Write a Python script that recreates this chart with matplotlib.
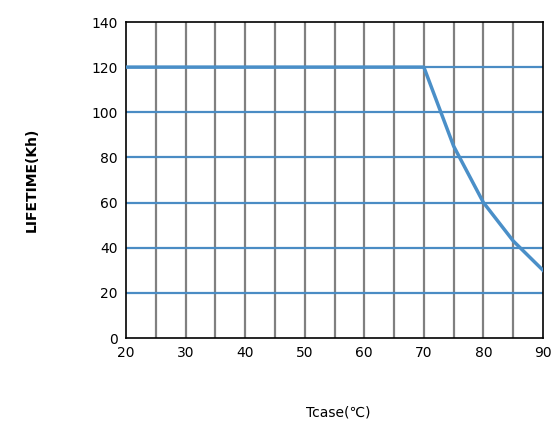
import matplotlib
matplotlib.use("Agg")
import matplotlib.pyplot as plt

temps = [20, 70, 75, 80, 85, 90]
lifetime = [120, 120, 85, 60, 43, 30]
xticks = [20, 30, 40, 50, 60, 70, 80, 90]
yticks = [0, 20, 40, 60, 80, 100, 120, 140]

fig = plt.figure(figsize=(5.59, 4.34), dpi=100)
ax = fig.add_axes([126/559, 1-338/434, 417/559, 316/434])
ax.set_xlim(20, 90)
ax.set_ylim(0, 140)
for x in range(25, 90, 5):
    ax.axvline(x, color="#808080", lw=1.6, zorder=1)
for y in range(20, 140, 20):
    ax.axhline(y, color="#4a8cc4", lw=1.6, zorder=1)
ax.plot(temps, lifetime, color="#4a8fc8", lw=2.5, zorder=3)
ax.set_xticks(xticks)
ax.set_yticks(yticks)
ax.tick_params(labelsize=10, length=0, pad=6)
for s in ax.spines.values():
    s.set_color("black"); s.set_linewidth(1.2)
fig.text(32/559, 1-180/434, "LIFETIME(Kh)", rotation=90, fontweight="bold", fontsize=10, ha="center", va="center")
fig.text(338/559, 1-413/434, "Tcase(℃)", fontsize=10, ha="center", va="center")
fig.savefig("out.png", dpi=100)
